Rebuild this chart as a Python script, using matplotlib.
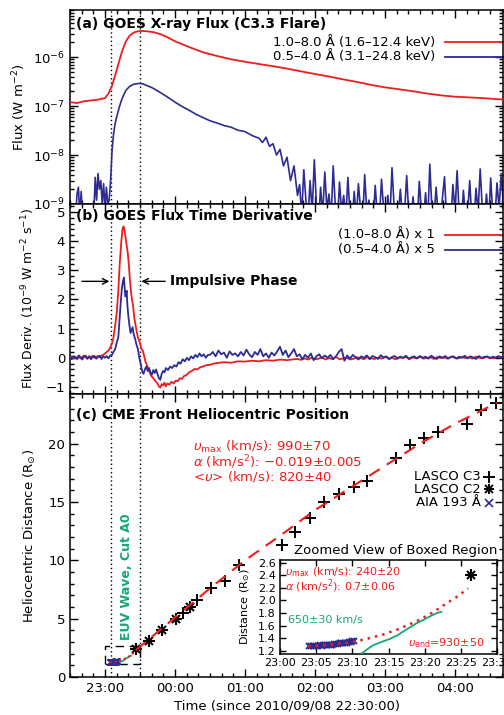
import numpy as np
import matplotlib
matplotlib.use('Agg')
import matplotlib.pyplot as plt
from matplotlib.ticker import MultipleLocator, FixedLocator, LogLocator, NullFormatter, FixedFormatter
from matplotlib.patches import Rectangle

plt.rcParams['font.family'] = ['DejaVu Sans']
plt.rcParams['mathtext.fontset'] = 'dejavusans'

RED = '#f01c1c'
BLUE = '#2c2c92'
GREEN = '#14a673'

# All times in hours since 2010/09/08 22:30:00
# ---------------- panel (a): GOES fluxes ----------------
t_long = [0.0, 0.1, 0.2, 0.3, 0.4, 0.5, 0.55, 0.6, 0.65, 0.7, 0.75, 0.8, 0.85, 0.9, 0.95,
          1.0, 1.05, 1.1, 1.2, 1.3, 1.4, 1.5, 1.7, 1.9, 2.1, 2.3, 2.5, 2.7, 2.9, 3.1, 3.3,
          3.5, 3.7, 3.9, 4.1, 4.3, 4.5, 4.7, 4.9, 5.1, 5.3, 5.5, 5.7, 5.9, 6.1, 6.2]
flux_long = [1.2e-7, 1.15e-7, 1.25e-7, 1.3e-7, 1.35e-7, 1.45e-7, 1.8e-7, 2.6e-7, 4.5e-7,
             8e-7, 1.4e-6, 2.1e-6, 2.7e-6, 3.1e-6, 3.3e-6, 3.4e-6, 3.4e-6, 3.35e-6, 3.2e-6,
             2.9e-6, 2.5e-6, 2.1e-6, 1.6e-6, 1.25e-6, 1.05e-6, 9e-7, 8e-7, 7.2e-7, 6.5e-7,
             5.8e-7, 5.1e-7, 4.5e-7, 4.0e-7, 3.5e-7, 3.1e-7, 2.7e-7, 2.4e-7, 2.2e-7, 2.0e-7,
             1.8e-7, 1.65e-7, 1.55e-7, 1.5e-7, 1.45e-7, 1.38e-7, 1.35e-7]

# 0.5-4.0 A: pre-flare samples every 0.02 h from 0 h (units of 1e-9 W m^-2)
short_pre_1e9 = [0.5, 0.6, 0.4, 0.7, 0.5, 1.6, 2.2, 0.6, 1.8, 0.5, 0.4, 0.6, 0.5, 0.7, 0.5,
                 0.6, 0.8, 0.6, 3.5, 1.2, 4.2, 2.0, 3.0, 1.0, 2.6, 0.8, 2.2, 1.0, 1.2]
t_short_flare = [0.58, 0.60, 0.62, 0.64, 0.66, 0.68, 0.70, 0.73, 0.76, 0.80, 0.85, 0.90, 0.95,
                 1.00, 1.05, 1.10, 1.15, 1.20, 1.30, 1.40, 1.50, 1.60, 1.70, 1.80, 1.90, 2.00,
                 2.10, 2.20, 2.30, 2.40, 2.50, 2.60, 2.70, 2.75, 2.80, 2.85, 2.90, 2.95, 3.00,
                 3.05, 3.10, 3.15, 3.20, 3.25]
flux_short_flare = [3e-9, 1.2e-8, 2.5e-8, 4e-8, 5.5e-8, 7e-8, 9e-8, 1.25e-7, 1.6e-7, 2.1e-7,
                    2.5e-7, 2.75e-7, 2.85e-7, 2.9e-7, 2.8e-7, 2.6e-7, 2.45e-7, 2.25e-7,
                    1.85e-7, 1.5e-7, 1.2e-7, 9.8e-8, 8.2e-8, 6.8e-8, 5.8e-8, 5.0e-8, 4.5e-8,
                    4.0e-8, 3.7e-8, 3.2e-8, 3.0e-8, 2.5e-8, 2.2e-8, 1.8e-8, 2.3e-8, 1.5e-8,
                    1.7e-8, 1.0e-8, 1.3e-8, 6e-9, 9e-9, 3e-9, 6e-9, 1.5e-9]
# post-flare samples every 0.03 h from 3.28 h (units of 1e-9 W m^-2)
short_post_1e9 = [2.5, 0.6, 5.0, 1.2, 0.5, 3.0, 0.7, 8.0, 1.0, 0.4, 2.2, 0.6, 4.5, 0.8, 1.6,
                  0.5, 6.0, 0.9, 0.4, 2.8, 0.7, 1.5, 0.5, 3.5, 0.6, 0.4, 1.8, 0.5, 2.6, 0.8,
                  0.4, 4.0, 0.7, 1.2, 0.5, 0.4, 2.4, 0.6, 0.5, 3.2, 0.8, 0.4, 1.5, 0.5, 5.5,
                  0.9, 0.4, 0.6, 2.0, 0.5, 0.7, 3.8, 0.6, 0.4, 1.4, 0.5, 0.4, 2.9, 0.7, 0.5,
                  1.7, 0.4, 6.5, 0.8, 0.5, 2.2, 0.6, 0.4, 1.3, 3.6, 0.5, 0.6, 0.4, 2.5, 0.7,
                  4.8, 0.6, 0.4, 1.9, 0.5, 0.6, 3.0, 0.5, 0.4, 2.1, 0.7, 5.2, 0.8, 0.5, 1.6,
                  0.4, 3.4, 0.6, 0.5, 2.7, 0.8, 4.2, 1.0]

# ---------------- panel (b): time derivatives ----------------
d_red_pre = [0.02, 0.05, -0.03, 0.04, 0.0, 0.06, -0.02, 0.03, 0.08, 0.01, -0.04, 0.05, 0.02,
             0.07, 0.0, 0.04, 0.06, 0.03, 0.08, 0.1, 0.15, 0.2]          # every 0.025 h from 0
t_red_flare = [0.55, 0.575, 0.6, 0.62, 0.645, 0.67, 0.69, 0.71, 0.73, 0.75, 0.765, 0.78, 0.795,
               0.81, 0.825, 0.84, 0.855, 0.87, 0.885, 0.9, 0.92, 0.945, 0.97, 1.0, 1.02, 1.04,
               1.06, 1.08, 1.1, 1.13, 1.16, 1.19, 1.22, 1.25, 1.27, 1.29, 1.31, 1.33, 1.35,
               1.37, 1.39, 1.42, 1.45, 1.48, 1.51, 1.54, 1.57, 1.6, 1.63, 1.66, 1.7, 1.74,
               1.78, 1.82, 1.86, 1.9, 1.95, 2.0, 2.05, 2.1, 2.2, 2.3, 2.4, 2.5, 2.6, 2.7, 2.8,
               2.9, 3.0, 3.1, 3.2]
d_red_flare = [0.25, 0.35, 0.5, 0.68, 1.1, 1.6, 2.3, 3.2, 3.9, 4.4, 4.5, 4.35, 4.1, 3.85, 3.6,
               3.2, 2.7, 2.3, 2.0, 1.8, 1.35, 1.0, 0.7, 0.5, 0.3, 0.25, 0.05, -0.15, -0.25,
               -0.45, -0.62, -0.7, -0.8, -0.88, -0.98, -1.02, -0.9, -0.95, -0.85, -0.98, -0.88,
               -0.92, -0.82, -0.88, -0.78, -0.8, -0.7, -0.72, -0.62, -0.6, -0.5, -0.45, -0.38,
               -0.4, -0.32, -0.3, -0.25, -0.24, -0.2, -0.18, -0.15, -0.17, -0.12, -0.13, -0.1,
               -0.12, -0.08, -0.1, -0.06, -0.08, -0.05]
d_red_post = [-0.04, -0.07, -0.02, -0.06, 0.0, -0.05, -0.03, 0.02, -0.06, -0.01, -0.04, 0.03,
              -0.05, -0.02, 0.01, -0.06, -0.03, 0.02, -0.01, -0.05, 0.03, -0.02, -0.04, 0.01,
              -0.03, 0.04, -0.02, 0.0, -0.05, 0.02, -0.01, 0.03, -0.04, 0.01, -0.02, 0.04,
              -0.03, 0.0, 0.02, -0.04, 0.03, -0.01, 0.01, -0.03, 0.04, 0.0, -0.02, 0.03,
              -0.01, 0.02, -0.03, 0.04, 0.0, -0.02, 0.03, 0.01, -0.02, 0.04, 0.0, 0.02]  # every 0.05 h from 3.25

d_blue_pre = [0.03, -0.05, 0.06, 0.0, -0.04, 0.08, 0.02, -0.06, 0.04, 0.07, -0.02, 0.05, -0.05,
              0.03, 0.06, -0.03, 0.02, 0.07, -0.04, 0.05, 0.0, 0.06, -0.02, 0.08, 0.1]  # every 0.025 h from 0
t_blue_flare = [0.62, 0.645, 0.665, 0.69, 0.71, 0.725, 0.74, 0.755, 0.77, 0.78, 0.79, 0.8, 0.81,
                0.82, 0.835, 0.85, 0.865, 0.88, 0.895, 0.91, 0.93, 0.95, 0.97, 0.99, 1.01,
                1.03, 1.05, 1.07, 1.09, 1.11, 1.13, 1.15, 1.17, 1.19, 1.21, 1.23, 1.25, 1.27,
                1.29, 1.31, 1.33, 1.35, 1.37, 1.4, 1.43, 1.46, 1.49, 1.52, 1.55, 1.58, 1.61,
                1.64, 1.67, 1.7, 1.73, 1.76, 1.79, 1.82, 1.85, 1.88, 1.91, 1.94, 1.97]
d_blue_flare = [0.2, 0.3, 0.5, 0.7, 1.4, 1.9, 2.35, 2.6, 2.75, 2.4, 2.1, 2.2, 2.3, 1.8, 1.4,
                1.1, 0.85, 0.95, 1.05, 0.8, 0.65, 0.45, 0.3, 0.0, -0.2, -0.45, -0.55, -0.4,
                -0.3, -0.45, -0.35, -0.5, -0.58, -0.42, -0.52, -0.4, -0.55, -0.7, -0.75, -0.55,
                -0.45, -0.5, -0.35, -0.42, -0.3, -0.35, -0.25, -0.3, -0.15, -0.2, -0.05, -0.12,
                0.0, -0.08, 0.05, -0.02, 0.1, 0.02, 0.15, 0.05, 0.12, 0.0, 0.1]
d_blue_post = [0.1, 0.2, 0.05, 0.25, 0.12, 0.18, 0.0, 0.22, 0.1, 0.15, 0.05,
               0.2, 0.08, 0.28, 0.12, 0.02, 0.2, 0.1, 0.3, 0.05, 0.15, 0.0,
               0.18, 0.08, 0.22, 0.38, 0.1, 0.25, 0.02, 0.15, 0.3, 0.05, 0.12,
               -0.05, 0.1, 0.0, 0.15, -0.08, 0.05, 0.12, -0.02, 0.08, 0.0, 0.1,
               -0.05, 0.05, 0.2, 0.3, -0.1, 0.08, -0.03, 0.1, 0.02, -0.06, 0.05,
               0.0, 0.08, -0.05, 0.06, 0.02, -0.04, 0.09, 0.0, 0.05, -0.05, 0.03,
               0.06, -0.03, 0.04, 0.0, 0.07, -0.04, 0.02, 0.05, -0.02, 0.06, 0.0,
               0.04, -0.03, 0.07, 0.01, -0.04, 0.05, 0.0, 0.06, -0.02, 0.03, 0.05,
               -0.03, 0.04, 0.0, 0.07, -0.02, 0.05, 0.01, -0.04, 0.06, 0.0, 0.03,
               0.05, -0.02, 0.04, 0.0, 0.06, 0.02, 0.08]  # every 0.04 h from 2.0

impulsive = [0.583, 1.0]   # 23:05 and 23:30

# ---------------- panel (c): CME positions ----------------
c3_t = [1.61, 1.82, 2.02, 2.22, 2.42, 3.03, 3.22, 3.43, 3.63, 3.84, 4.05, 4.24, 4.65, 4.86,
        5.06, 5.26, 5.67, 5.87, 6.08]
c3_r = [5.45, 6.6, 7.65, 8.25, 9.6, 11.3, 12.4, 13.65, 15.0, 15.7, 16.25, 16.8, 18.8, 19.9,
        20.5, 21.0, 21.7, 22.9, 23.45]
c2_t = [0.94, 1.13, 1.31, 1.51, 1.71]
c2_r = [2.4, 3.11, 4.03, 4.97, 5.97]
fit_t = [0.94, 1.5, 2.0, 2.5, 3.0, 3.5, 4.0, 4.5, 5.0, 5.5, 6.1]
fit_r = [2.3, 5.1, 7.6, 10.0, 12.1, 14.3, 16.2, 18.1, 20.0, 21.7, 23.5]
# minutes after 23:00
aia_min = [4.0, 4.25, 4.5, 4.75, 5.0, 5.25, 5.5, 5.75, 6.0, 6.25, 6.5, 6.75, 7.0, 7.25, 7.5,
           7.75, 8.0, 8.25, 8.5, 8.75, 9.0, 9.25, 9.5, 9.75, 10.0, 10.25]
aia_r = [1.27, 1.27, 1.28, 1.27, 1.28, 1.28, 1.29, 1.28, 1.29, 1.29, 1.30, 1.29, 1.30, 1.30,
         1.31, 1.31, 1.31, 1.32, 1.32, 1.33, 1.32, 1.33, 1.34, 1.34, 1.35, 1.35]
euv_min = [11.3, 12.0, 12.9, 14.0, 15.2, 16.3, 16.8, 17.8, 18.9, 19.8, 20.8, 21.7, 22.3]
euv_r = [1.16, 1.22, 1.29, 1.34, 1.39, 1.45, 1.49, 1.56, 1.64, 1.69, 1.75, 1.80, 1.82]
fit2_min = [3.9, 6.0, 8.0, 10.1, 12.0, 14.3, 16.5, 18.9, 21.0, 23.0, 24.5, 26.0]
fit2_r = [1.27, 1.29, 1.31, 1.34, 1.39, 1.46, 1.55, 1.67, 1.80, 1.95, 2.06, 2.19]

main_ticks = [0.5, 1.5, 2.5, 3.5, 4.5, 5.5]
main_labels = ['23:00', '00:00', '01:00', '02:00', '03:00', '04:00']
zoom_ticks_min = [0, 5, 10, 15, 20, 25, 30]
zoom_labels = ['23:00', '23:05', '23:10', '23:15', '23:20', '23:25', '23:30']
box_t = (0.5, 1.0)
box_r = (1.15, 2.64)

# ---------------------------------------------------------
def h_from_min(m):
    return 0.5 + np.asarray(m) / 60.0

t_pre_a = 0.02 * np.arange(len(short_pre_1e9))
t_post_a = 3.28 + 0.03 * np.arange(len(short_post_1e9))
t_short = np.concatenate([t_pre_a, t_short_flare, t_post_a])
flux_short = np.concatenate([np.array(short_pre_1e9) * 1e-9, flux_short_flare,
                             np.array(short_post_1e9) * 1e-9])

t_red_b = np.concatenate([0.025 * np.arange(len(d_red_pre)), t_red_flare,
                          3.25 + 0.05 * np.arange(len(d_red_post))])
d_red = np.concatenate([d_red_pre, d_red_flare, d_red_post])
t_blue_b = np.concatenate([0.025 * np.arange(len(d_blue_pre)), t_blue_flare,
                           2.0 + 0.04 * np.arange(len(d_blue_post))])
d_blue = np.concatenate([d_blue_pre, d_blue_flare, d_blue_post])

W, H = 504, 715
fig = plt.figure(figsize=(W / 100, H / 100), dpi=100)
L, R = 70, 503
def fax(top, bot, left=L, right=R):
    return [left / W, 1 - bot / H, (right - left) / W, (bot - top) / H]

ax_a = fig.add_axes(fax(10, 204))
ax_b = fig.add_axes(fax(204, 394))
ax_c = fig.add_axes(fax(394, 677))
XMAX = (R - L) / 70.0

FS = 9.5
for ax in (ax_a, ax_b, ax_c):
    ax.set_xlim(0, XMAX)
    ax.xaxis.set_major_locator(FixedLocator(main_ticks))
    ax.xaxis.set_minor_locator(MultipleLocator(1 / 6))
    ax.tick_params(which='both', direction='in', top=True, right=True, labelsize=FS, width=1)
    ax.tick_params(which='major', length=6)
    ax.tick_params(which='minor', length=3)
    for s in ax.spines.values():
        s.set_linewidth(1.1)
    for tv in impulsive:
        ax.axvline(tv, color='k', ls=(0, (1, 2)), lw=1, zorder=1)
ax_a.tick_params(labelbottom=False)
ax_b.tick_params(labelbottom=False)
ax_c.xaxis.set_major_formatter(FixedFormatter(main_labels))
ax_c.set_xlabel('Time (since 2010/09/08 22:30:00)', fontsize=FS, labelpad=3)


def c2_marker(ax, x, y, ms, mew, **kw):
    ax.plot(x, y, ls='none', marker='+', ms=ms, mew=mew, color='k', **kw)
    ax.plot(x, y, ls='none', marker='x', ms=ms * 0.8, mew=mew, color='k', **kw)

# panel a
ax_a.set_yscale('log')
ax_a.set_ylim(1e-9, 10 ** -5.04)
ax_a.yaxis.set_major_locator(LogLocator(base=10, numticks=10))
ax_a.yaxis.set_minor_locator(LogLocator(base=10, subs=np.arange(2, 10), numticks=20))
ax_a.yaxis.set_minor_formatter(NullFormatter())
ax_a.plot(t_long, flux_long, color=RED, lw=1.3, zorder=3)
ax_a.plot(t_short, flux_short, color=BLUE, lw=1.2, zorder=2)
ax_a.text(0.014, 0.928, '(a) GOES X-ray Flux (C3.3 Flare)', transform=ax_a.transAxes,
          fontsize=10, fontweight='bold', va='center', ha='left')
ax_a.text(0.843, 0.835, '1.0–8.0 Å (1.6–12.4 keV)', transform=ax_a.transAxes, fontsize=FS,
          ha='right', va='center')
ax_a.text(0.843, 0.758, '0.5–4.0 Å (3.1–24.8 keV)', transform=ax_a.transAxes, fontsize=FS,
          ha='right', va='center')
ax_a.plot([0.866, 1.0], [0.835, 0.835], color=RED, lw=1.3, transform=ax_a.transAxes, clip_on=False)
ax_a.plot([0.866, 1.0], [0.758, 0.758], color=BLUE, lw=1.3, transform=ax_a.transAxes, clip_on=False)
ax_a.set_ylabel('Flux (W m$^{-2}$)', fontsize=FS)
ax_a.yaxis.set_label_coords(-0.097, 0.5)

# panel b
ax_b.set_ylim(-1.24, 5.27)
ax_b.yaxis.set_major_locator(MultipleLocator(1))
ax_b.yaxis.set_minor_locator(MultipleLocator(0.2))
ax_b.plot(t_red_b, d_red, color=RED, lw=1.3, zorder=2)
ax_b.plot(t_blue_b, d_blue, color=BLUE, lw=1.3, zorder=3)
ax_b.text(0.014, 0.937, '(b) GOES Flux Time Derivative', transform=ax_b.transAxes,
          fontsize=10, fontweight='bold', va='center', ha='left')
ax_b.text(0.843, 0.837, '(1.0–8.0 Å) x 1', transform=ax_b.transAxes, fontsize=FS,
          ha='right', va='center')
ax_b.text(0.843, 0.758, '(0.5–4.0 Å) x 5', transform=ax_b.transAxes, fontsize=FS,
          ha='right', va='center')
ax_b.plot([0.866, 1.0], [0.837, 0.837], color=RED, lw=1.3, transform=ax_b.transAxes, clip_on=False)
ax_b.plot([0.866, 1.0], [0.758, 0.758], color=BLUE, lw=1.3, transform=ax_b.transAxes, clip_on=False)
ax_b.annotate('', xy=(impulsive[0], 2.62), xytext=(0.17, 2.62),
              arrowprops=dict(arrowstyle='->', lw=1, color='k', shrinkA=0, shrinkB=1))
ax_b.annotate('', xy=(impulsive[1], 2.62), xytext=(1.36, 2.62),
              arrowprops=dict(arrowstyle='->', lw=1, color='k', shrinkA=0, shrinkB=1))
ax_b.text(1.43, 2.62, 'Impulsive Phase', fontsize=10, fontweight='bold', va='center', ha='left')
ax_b.set_ylabel('Flux Deriv. (10$^{-9}$ W m$^{-2}$ s$^{-1}$)', fontsize=9)
ax_b.yaxis.set_label_coords(-0.076, 0.5)

# panel c
ax_c.set_ylim(0, 24.25)
ax_c.yaxis.set_major_locator(MultipleLocator(5))
ax_c.yaxis.set_minor_locator(MultipleLocator(1))
ax_c.plot(c3_t, c3_r, ls='none', marker='+', ms=8, mew=1.4, color='k', zorder=4)
c2_marker(ax_c, c2_t, c2_r, 8, 1.5, zorder=4)
ax_c.plot(fit_t, fit_r, color=RED, lw=1.5, ls=(0, (6, 4)), zorder=5)
ax_c.plot(h_from_min(fit2_min), fit2_r, color=RED, lw=1.4, ls=(0, (1, 1.5)), zorder=5)
ax_c.plot(h_from_min(euv_min), euv_r, color=GREEN, lw=1.3, zorder=4)
ax_c.plot(h_from_min(aia_min), aia_r, ls='none', marker='x', ms=4, mew=1, color=BLUE, zorder=4)
ax_c.add_patch(Rectangle((box_t[0], box_r[0]), box_t[1] - box_t[0], box_r[1] - box_r[0],
                         fill=False, ec='k', lw=1, ls=(0, (6, 4)), zorder=3))
ax_c.text(0.014, 0.926, '(c) CME Front Heliocentric Position', transform=ax_c.transAxes,
          fontsize=10, fontweight='bold', va='center', ha='left')
rt = [r'$\upsilon_{\rm max}$ (km/s): 990±70', r'$\alpha$ (km/s$^2$): −0.019±0.005',
      r'<$\upsilon$> (km/s): 820±40']
for s, yy in zip(rt, [0.813, 0.760, 0.707]):
    ax_c.text(0.284, yy, s, color=RED, fontsize=FS, transform=ax_c.transAxes, va='center')
leg_lab = ['LASCO C3', 'LASCO C2', 'AIA 193 Å']
leg_y = [0.707, 0.664, 0.615]
for lab, yy in zip(leg_lab, leg_y):
    ax_c.text(0.948, yy, lab, fontsize=FS, transform=ax_c.transAxes, ha='right', va='center')
ax_c.plot([0.968], [leg_y[0]], marker='+', color='k', ms=8, mew=1.4,
          transform=ax_c.transAxes, clip_on=False)
ax_c.plot([0.968], [leg_y[1]], marker='+', color='k', ms=7, mew=1.4,
          transform=ax_c.transAxes, clip_on=False)
ax_c.plot([0.968], [leg_y[1]], marker='x', color='k', ms=5.6, mew=1.4,
          transform=ax_c.transAxes, clip_on=False)
ax_c.plot([0.968], [leg_y[2]], marker='x', color=BLUE, ms=5.5, mew=1.2,
          transform=ax_c.transAxes, clip_on=False)
ax_c.text(0.8, 3.2, 'EUV Wave, Cut A0', color=GREEN, rotation=90, fontsize=9,
          fontweight='bold', ha='center', va='bottom')
ax_c.set_ylabel(r'Heliocentric Distance (R$_{\odot}$)', fontsize=FS)
ax_c.yaxis.set_label_coords(-0.074, 0.5)

# inset
FI = 8
ax_i = fig.add_axes(fax(560, 654, 280, 497))
ax_i.set_xlim(box_t)
ax_i.set_ylim(box_r)
ax_i.xaxis.set_major_locator(FixedLocator(h_from_min(zoom_ticks_min)))
ax_i.xaxis.set_major_formatter(FixedFormatter(zoom_labels))
ax_i.yaxis.set_major_locator(FixedLocator([1.2, 1.4, 1.6, 1.8, 2.0, 2.2, 2.4, 2.6]))
ax_i.yaxis.set_major_formatter(FixedFormatter(['1.2', '1.4', '1.6', '1.8', '2.0', '2.2', '2.4', '2.6']))
ax_i.tick_params(which='both', direction='in', top=True, right=True, labelsize=8, length=4,
                 width=1, pad=3)
for s in ax_i.spines.values():
    s.set_linewidth(1.1)
ax_i.plot(h_from_min(fit2_min), fit2_r, color=RED, lw=1.8, ls=(0, (1, 2)), zorder=3)
ax_i.plot(h_from_min(euv_min), euv_r, color=GREEN, lw=1.3, zorder=4)
ax_i.plot(h_from_min(aia_min), aia_r, ls='none', marker='x', ms=5, mew=1.4, color=BLUE, zorder=2)
c2_marker(ax_i, c2_t, c2_r, 8, 1.5, zorder=4)
ax_i.text(0.023, 0.865, r'$\upsilon_{\rm max}$ (km/s): 240±20', color=RED, fontsize=FI,
          transform=ax_i.transAxes, va='center')
ax_i.text(0.023, 0.725, r'$\alpha$ (km/s$^2$): 0.7±0.06', color=RED, fontsize=FI,
          transform=ax_i.transAxes, va='center')
ax_i.text(0.037, 0.362, '650±30 km/s', color=GREEN, fontsize=FI, transform=ax_i.transAxes,
          va='center')
ax_i.text(0.945, 0.117, r'$\upsilon_{\rm end}$=930±50', color=RED, fontsize=FI,
          transform=ax_i.transAxes, va='center', ha='right')
ax_i.text(1.0, 1.03, 'Zoomed View of Boxed Region', fontsize=FS, transform=ax_i.transAxes,
          ha='right', va='bottom')
ax_i.set_ylabel(r'Distance (R$_{\odot}$)', fontsize=8)
ax_i.yaxis.set_label_coords(-0.13, 0.5)

fig.savefig('out.png', dpi=100)
